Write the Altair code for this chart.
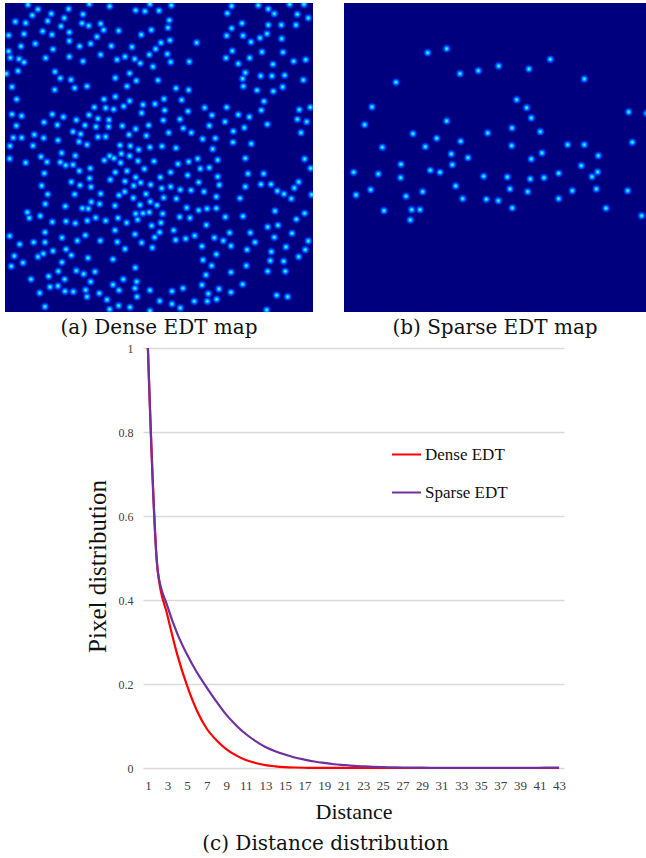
import altair as alt
import pandas as pd

# ---------------- dot readings (crop-local readings at 3x, with crop origins) -------------
DENSE_Q1_ORIGIN = (3, 0)
DENSE_Q1 = [(75,14),(105,28),(88,46),(145,41),(184,54),(197,27),(240,43),(259,12),(320,19),(398,31),(426,34),(441,12),
(37,65),(68,69),(134,63),(174,79),(237,70),(257,77),(293,71),(302,90),(347,92),(445,90),(415,104),
(17,106),(63,102),(119,94),(147,104),(199,97),(199,123),(282,110),(263,131),(230,139),(97,131),(54,139),(150,148),(325,138),(387,141),
(17,154),(22,173),(48,177),(63,187),(128,174),(199,170),(240,184),(293,164),(342,179),(366,170),(395,177),(412,190),(439,164),(458,147),(450,200),
(10,221),(45,213),(156,215),(172,235),(204,239),(215,264),(252,259),(155,269),(337,234),(380,220),(400,242),(372,259),
(27,261),(41,298),(303,298),(337,290),(380,303),(456,312),(420,314),(274,322),(308,324),(332,328),(362,319),
(27,343),(56,348),(148,343),(181,351),(258,345),(220,360),(285,356),(318,360),(416,339),
(123,367),(163,375),(40,377),(246,376),(279,380),(317,380),(358,378),(437,376),(398,387),
(94,404),(31,413),(56,413),(122,414),(210,395),(233,402),(285,411),(308,410),(378,404),(430,407),
(165,421),(228,425),(252,434),(90,437),(21,438),(351,436),(382,438),(407,449),(441,442),
(176,459),(355,461)]

DENSE_Q2_ORIGIN = (157, 0)
DENSE_Q2 = [(43,16),(6,32),(37,61),(33,83),(12,128),(39,121),(119,128),(31,162),(41,186),(97,185),(3,241),(57,265),(95,270),(21,297),(74,300),(23,331),(93,334),(143,323),(19,361),(69,358),(35,398),(79,385),(103,398),(165,346),(157,377),(137,417),(175,415),(15,439),(57,444),(167,447),
(224,18),(211,40),(304,16),(334,27),(352,41),(398,13),(441,13),(421,43),(454,54),
(255,70),(224,85),(209,107),(258,107),(282,126),(309,114),(330,101),(334,75),(373,75),(417,75),(374,116),
(226,153),(207,174),(244,191),(278,174),(315,156),(378,157),(348,193),(410,184),(446,179),
(265,218),(257,236),(311,228),(345,228),(383,226),(439,240),(259,259),(300,271),(349,274),(377,261),
(321,304),(209,322),(244,344),(277,351),(313,331),(427,329),(460,322),(421,358),(449,365),
(204,365),(262,383),(331,373),(229,394),(432,398),(228,427),(283,431)]

DENSE_Q3_ORIGIN = (3, 155)
DENSE_Q3 = [(20,11),(68,23),(114,5),(132,21),(172,22),(188,31),(210,29),(217,2),(229,48),(262,40),(304,16),(320,3),(333,10),(353,23),(380,3),(405,18),(424,42),(453,19),
(124,55),(260,70),(322,74),(337,52),(372,48),(366,79),(398,67),(413,83),(392,92),(443,89),
(116,92),(205,81),(231,91),(264,96),(134,118),(215,118),(293,116),(348,121),(365,110),(391,129),(429,117),(442,140),(462,151),
(127,147),(187,154),(238,160),(256,161),(265,141),(290,147),(336,152),(411,150),
(73,172),(79,189),(112,183),(278,188),(308,197),(345,189),(398,176),(420,175),(439,172),(404,194),
(148,201),(189,199),(217,205),(253,197),(371,203),(446,212),
(126,232),(247,241),(20,243),(177,248),(223,257),(292,257),(336,226),(396,238),(455,247),
(50,268),(92,262),(126,262),(189,283),(343,261),(366,282),(416,263),(448,278),
(34,303),(105,305),(121,296),(150,288),(205,301),(255,309),(330,313),
(60,323),(177,322),(25,334),(166,349),(220,347),(242,357),(276,350),(397,338),
(84,373),(137,364),(185,373),(263,380),(361,373),(401,380),(330,389),(348,406),
(141,396),(165,393),(110,414),(186,409),(211,410),(248,405),(289,415),(312,434),(396,400),(441,406),
(252,425),(126,455),(320,463),(347,452),(381,457),(441,468),(402,425)]

DENSE_Q4_ORIGIN = (157, 155)
DENSE_Q4 = [(63,27),(95,20),(122,11),(182,15),(130,41),(157,38),(41,52),(10,67),(92,61),(125,82),(182,65),(187,90),(14,100),(41,95),(70,104),(102,106),(141,110),(178,125),(20,128),(58,131),
(89,158),(125,166),(150,161),(178,160),(17,176),(68,186),(99,189),(205,186),(258,184),(12,203),(148,210),
(8,232),(50,226),(113,242),(86,251),(56,255),(172,248),(199,257),(218,233),(222,273),(280,233),(294,262),
(135,274),(270,284),(178,298),(138,315),(164,332),(268,332),(222,352),(147,360),
(265,10),(273,56),(320,56),(312,88),(265,95),(342,88),(361,108),(381,117),(403,131),(412,99),(425,81),(443,12),(461,40),(464,119),(249,130),
(354,168),(443,175),(418,193),(332,216),(363,211),(352,247),(405,235),(454,258),(387,276),(445,284),(425,305),(343,290),(340,317),(380,319),(332,349),(385,349),
(135,390),(186,402),(45,409),(78,400),(154,416),(222,412),(257,388),(8,438),(45,447),(70,459),(112,439),(151,439),(179,433),(329,465),(359,421),(392,425)]

SPARSE_ORIGIN = (330, 0)
SPARSE = [(293,158),(350,146),(390,221),(445,212),(506,198),(597,207),(661,178),(763,237),(198,247),
(126,321),(104,374),(560,299),(590,323),(604,354),(350,363),(249,401),(320,415),(286,440),(157,442),(392,424),(473,399),(546,384),(631,395),(545,437),(713,434),(763,434),(896,336),(907,427),(950,340),
(364,462),(414,473),(604,477),(636,459),(805,467),
(71,517),(145,522),(213,493),(212,533),(301,511),(330,517),(367,494),(461,529),(532,531),(601,537),(642,533),(686,520),(754,497),(786,530),(803,516),
(78,585),(122,569),(228,589),(278,575),(377,558),(398,596),(469,598),(505,602),(540,567),(593,575),(686,596),(727,572),(799,567),(893,572),
(162,632),(245,629),(270,629),(241,660),(547,624),(828,625),(935,647)]

# image extents in page pixels
DENSE_X = [5, 313]
DENSE_Y = [3, 312]
SPARSE_X = [344, 646]
SPARSE_Y = [3, 312]

# ---------------- line chart data ----------------
distance = list(range(1, 44))
dense_edt = [1.0, 0.47, 0.363, 0.27, 0.196, 0.137, 0.094, 0.066, 0.045, 0.03, 0.019, 0.012, 0.0068,
             0.004, 0.0022, 0.0012, 0.0006, 0.0003, 0.0002, 0.0001, 0.0001, 0.0, 0.0, 0.0, 0.0, 0.0,
             0.0, 0.0, 0.0, 0.0, 0.0, 0.0, 0.0, 0.0, 0.0, 0.0, 0.0, 0.0, 0.0, 0.0, 0.0, 0.0, 0.0]
sparse_edt = [1.0, 0.47, 0.385, 0.32, 0.27, 0.228, 0.192, 0.158, 0.127, 0.102, 0.081, 0.064, 0.05,
              0.04, 0.032, 0.025, 0.02, 0.0155, 0.012, 0.009, 0.007, 0.0052, 0.004, 0.003, 0.0022,
              0.0016, 0.0012, 0.0009, 0.0007, 0.0005, 0.0004, 0.0003, 0.0002, 0.0002, 0.0002, 0.0002,
              0.0002, 0.0002, 0.0003, 0.0004, 0.0006, 0.0009, 0.0012]
series_names = ["Dense EDT", "Sparse EDT"]
series_colors = ["#FF0000", "#7030A0"]


def to_page(origin, pts):
    return pd.DataFrame({"x": [origin[0] + a / 3 for a, b in pts],
                         "y": [origin[1] + b / 3 for a, b in pts]})


dense_df = pd.concat([to_page(DENSE_Q1_ORIGIN, DENSE_Q1), to_page(DENSE_Q2_ORIGIN, DENSE_Q2),
                      to_page(DENSE_Q3_ORIGIN, DENSE_Q3), to_page(DENSE_Q4_ORIGIN, DENSE_Q4)],
                     ignore_index=True)
sparse_df = to_page(SPARSE_ORIGIN, SPARSE)

BG = "#00007F"
DOT_STYLE = [(90, "#0018C8", 0.55), (46, "#0048FF", 1.0), (20, "#009CFF", 1.0),
             (8, "#00E0FF", 1.0), (2.5, "#70FF90", 1.0)]
CAPTION_FONT = "DejaVu Serif"


def edt_map(df, xdom, ydom, caption):
    base = alt.Chart(df).encode(
        x=alt.X("x:Q", scale=alt.Scale(domain=xdom, nice=False, zero=False), axis=None),
        y=alt.Y("y:Q", scale=alt.Scale(domain=ydom, nice=False, zero=False, reverse=True), axis=None),
    )
    layers = [base.mark_circle(size=s, color=c, opacity=o, clip=True) for s, c, o in DOT_STYLE]
    return alt.layer(*layers).properties(
        width=xdom[1] - xdom[0], height=ydom[1] - ydom[0],
        view=alt.ViewBackground(fill=BG, stroke=None),
        title=alt.TitleParams(caption, orient="bottom", font=CAPTION_FONT, fontSize=20,
                              fontWeight="normal", color="#111111", offset=6),
    )


dense_map = edt_map(dense_df, DENSE_X, DENSE_Y, "(a) Dense EDT map")
sparse_map = edt_map(sparse_df, SPARSE_X, SPARSE_Y, "(b) Sparse EDT map")
top_row = alt.hconcat(dense_map, sparse_map, spacing=31)

line_df = pd.DataFrame({
    "Distance": distance * 2,
    "value": dense_edt + sparse_edt,
    "series": [series_names[0]] * len(distance) + [series_names[1]] * len(distance),
})

SERIF = "Liberation Serif"
line_chart = alt.Chart(line_df).mark_line(strokeWidth=2.2, interpolate="monotone").encode(
    x=alt.X("Distance:Q", scale=alt.Scale(domain=[0.5, 43.5], nice=False, zero=False),
            axis=alt.Axis(values=list(range(1, 44, 2)), grid=False, ticks=False, domain=False,
                          labelFont=SERIF, labelFontSize=13, labelColor="#404040", labelPadding=11,
                          title="Distance", titleFont=SERIF, titleFontSize=22,
                          titleFontWeight="normal", titleColor="#111111", titlePadding=9)),
    y=alt.Y("value:Q", scale=alt.Scale(domain=[0, 1], nice=False),
            axis=alt.Axis(values=[0, 0.2, 0.4, 0.6, 0.8, 1], format="~g", grid=True,
                          gridColor="#D9D9D9", gridWidth=1.3, ticks=False, domain=False,
                          labelFont=SERIF, labelFontSize=12, labelColor="#404040", labelPadding=10,
                          title="Pixel distribution", titleFont=SERIF, titleFontSize=25,
                          titleFontWeight="normal", titleColor="#111111", titlePadding=8,
                          titleY=218)),
    color=alt.Color("series:N", scale=alt.Scale(domain=series_names, range=series_colors),
                    legend=alt.Legend(orient="none", legendX=386, legendY=436, title=None,
                                      symbolType="stroke", symbolSize=841, symbolStrokeWidth=2,
                                      labelFont=SERIF, labelFontSize=17, labelColor="#111111",
                                      rowPadding=14, labelOffset=3, padding=0)),
).properties(
    width=421, height=420,
    view=alt.ViewBackground(stroke=None),
    title=alt.TitleParams("(c) Distance distribution", orient="bottom", font=CAPTION_FONT,
                          fontSize=20, fontWeight="normal", color="#111111", offset=12, dx=-28),
)

spacer = alt.Chart(pd.DataFrame({"v": [0]})).mark_point(opacity=0, size=0, strokeWidth=0).encode(
    x=alt.X("v:Q", axis=None), y=alt.Y("v:Q", axis=None)
).properties(width=1, height=1, view=alt.ViewBackground(stroke=None))

bottom_row = alt.hconcat(spacer, line_chart, spacing=79)

chart = alt.vconcat(top_row, bottom_row, spacing=4).properties(
    padding={"left": 5, "top": 3, "right": 0, "bottom": 0}
).configure_view(stroke=None)

chart.save("out.html", embed_options={"renderer": "svg", "actions": False})
